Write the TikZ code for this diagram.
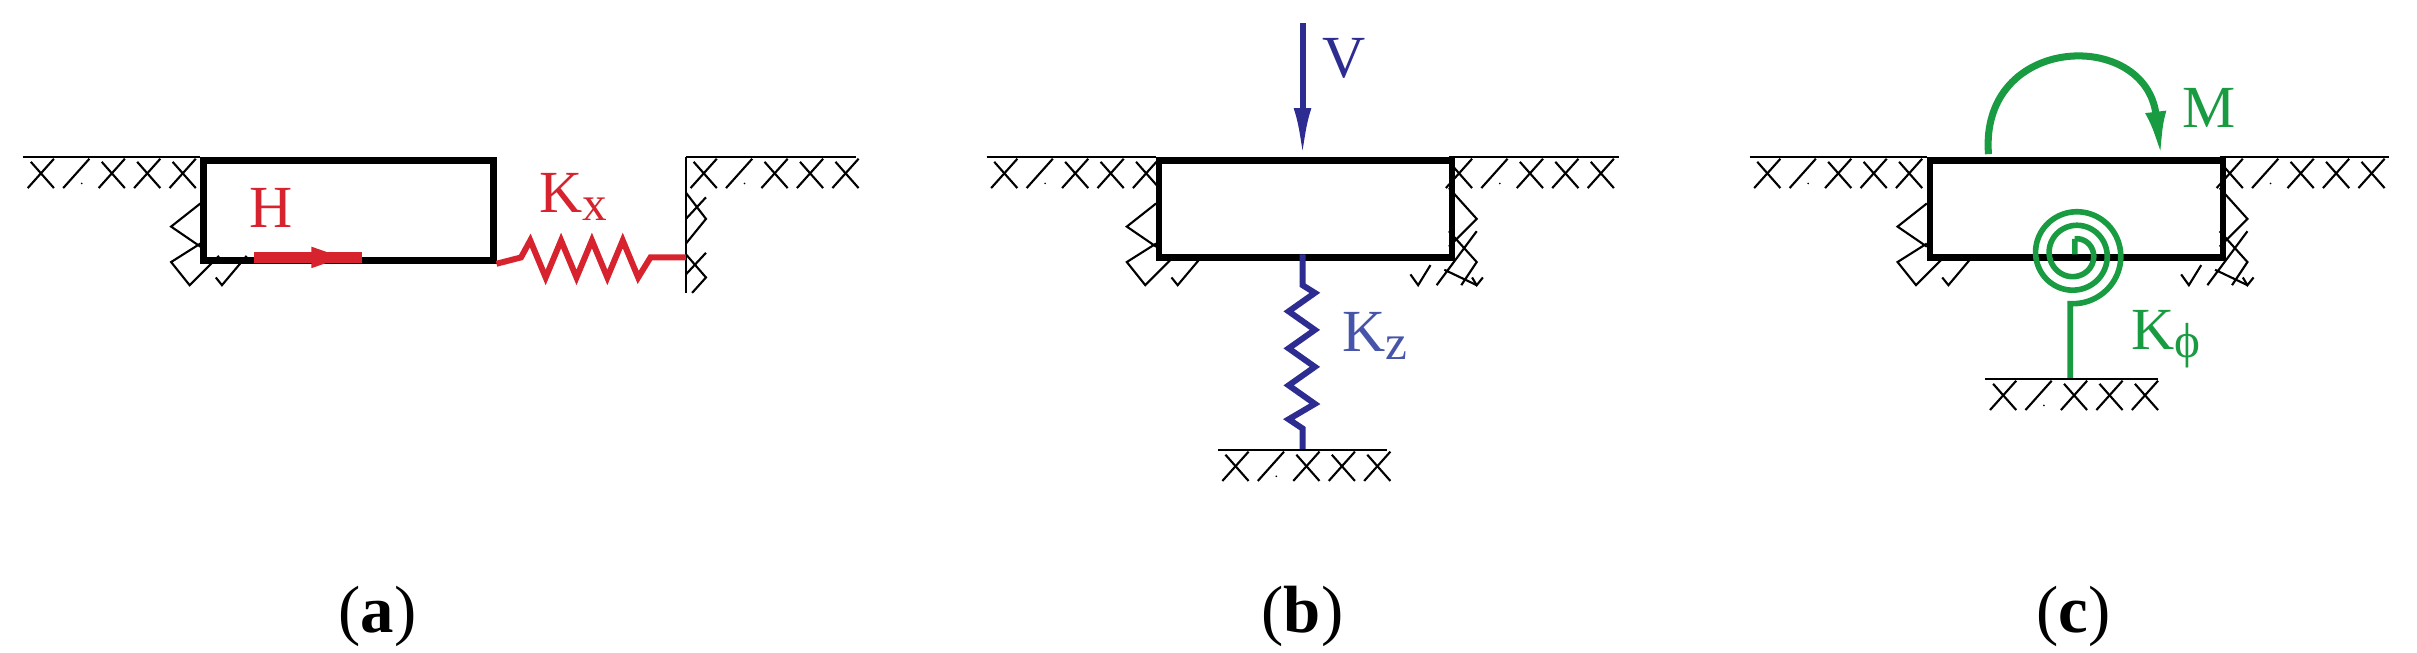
\documentclass[tikz,border=0pt]{standalone}
\usepackage{fontspec}
\setmainfont{Liberation Serif}
\usetikzlibrary{arrows.meta}
\definecolor{cred}{RGB}{215,35,45}
\definecolor{cblue}{RGB}{45,45,145}
\definecolor{cblab}{RGB}{70,85,170}
\definecolor{cgreen}{RGB}{25,155,65}
\tikzset{hatch/.style={black,line width=0.6pt},
 boxst/.style={draw=black,line width=1.8pt},
 springst/.style={line width=1.7pt,line join=miter},
 lab/.style={inner sep=0pt,font=\fontsize{17}{17}\selectfont},
 captxt/.style={inner sep=0pt,font=\fontsize{19}{19}\selectfont}}
\newcommand\sub[1]{\raisebox{-0.3ex}{\fontsize{14}{14}\selectfont #1}}
\newcommand\ghatch[3]{%
 \foreach \i in {1,...,#3}{\pgfmathsetmacro\xa{#1+23*(\i-1)+3}
  \draw[hatch] (\xa,#2+20)--(\xa+17,#2+1);
  \pgfmathparse{int(mod(\i,5))}\ifnum\pgfmathresult=2\relax
   \fill (\xa+12,#2+17) circle (0.6);\else
   \draw[hatch] (\xa+2,#2+3)--(\xa+17,#2+20);\fi}}
\newcommand\lwall[1]{%
 \draw[hatch] (#1,132)--(#1-19,147)--(#1,160);
 \draw[hatch] (#1,158)--(#1-19,170)--(#1-7,185)--(#1+12,166);
 \draw[hatch] (#1+10,180)--(#1+14,185)--(#1+30,166);}
\newcommand\rwall[1]{%
 \draw[hatch] (#1,122)--(#1+18,142)--(#1,160);
 \draw[hatch] (#1,150)--(#1+18,170)--(#1+8,185);
 \draw[hatch] (#1+18,150)--(#1-8,185) (#1-3,175)--(#1+18,185) ;
 \draw[hatch] (#1-25,178)--(#1-20,185)--(#1-12,172) (#1+15,180)--(#1+18,185)--(#1+22,180);}
\begin{document}
\begin{tikzpicture}[x=0.015415cm,y=-0.015415cm]
\useasboundingbox (0,0) rectangle (1568,423);
% ---------- (a)
\draw[hatch] (15,102)--(130,102); \ghatch{15}{102}{5}
\lwall{130}
\node[boxst,minimum width=188*0.015415cm,minimum height=65*0.015415cm,anchor=north west,inner sep=0pt] (boxa) at (130,102) {};
\draw[hatch] (445,102)--(555,102) (445,102)--(445,190); \ghatch{445}{102}{5}
\draw[hatch] (445,125)--(458,142)--(445,158) (458,128)--(445,142) (445,165)--(458,180)--(449,190) (458,164)--(445,178);
\coordinate (wa) at (445,167);
\draw[cred,springst] (boxa.south east)--(338,167)--(344,156)--(354,180)--(364,156)--(374,180)--(384,156)--(394,180)--(404,156)--(414,180)--(422,167)--(wa);
\coordinate (ha1) at (165,167); \coordinate (ha2) at (235,167);
\draw[cred,line width=3pt] (ha1)--(ha2);
\fill[cred] (202,160)--(222,167)--(202,174)--cycle;
\node[lab,text=cred] (H) at (176,135) {H};
\node[lab,text=cred] (Kx) at (372,128) {K\sub{x}};
\node[captxt] (ca) at (245,400) {(\textbf{a})};
% ---------- (b)
\draw[hatch] (640,102)--(750,102); \ghatch{640}{102}{5}
\draw[hatch] (940,102)--(1050,102); \ghatch{935}{102}{5}
\lwall{750} \rwall{940}
\node[boxst,minimum width=190*0.015415cm,minimum height=63*0.015415cm,anchor=north west,inner sep=0pt] (boxb) at (750,102) {};
\coordinate (vtop) at (845,15);
\draw[cblue,line width=1.7pt,-{Latex[length=14pt,width=5pt]}] (vtop)--(845,102);
\coordinate (gb) at (845,292);
\draw[cblue,springst] (845,165)--(845,185)--(853,190)--(836,202)--(853,214)--(836,226)--(853,238)--(836,250)--(853,262)--(836,272)--(845,278)--(gb);
\draw[hatch] (790,292)--(900,292); \ghatch{790}{292}{5}
\node[lab,text=cblue] (V) at (872,38) {V};
\node[lab,text=cblab] (Kz) at (892,218) {K\sub{z}};
\node[captxt] (cb) at (845,400) {(\textbf{b})};
% ---------- (c)
\draw[hatch] (1135,102)--(1250,102); \ghatch{1135}{102}{5}
\draw[hatch] (1440,102)--(1550,102); \ghatch{1435}{102}{5}
\lwall{1250} \rwall{1440}
\node[boxst,minimum width=190*0.015415cm,minimum height=63*0.015415cm,anchor=north west,inner sep=0pt] (boxc) at (1250,102) {};
\coordinate (m1) at (1290,100); \coordinate (m2) at (1402,102);
\draw[cgreen,line width=2pt,-{Latex[length=13pt,width=6pt]}] (m1) .. controls (1284,22) and (1392,18) .. (m2);
\node[lab,text=cgreen] (M) at (1433,70) {M};
\coordinate (sc) at (1346,165);
\draw[cgreen,line width=1.6pt] (sc)--(1346,155)
 plot[domain=0:900,samples=250,smooth] ({1346+(10+(\x/900)*22)*sin(\x)},{165-(10+(\x/900)*22)*cos(\x)})
 --(1343,197)--(1343,246);
\draw[hatch] (1288,246)--(1400,246); \ghatch{1288}{246}{5}
\node[lab,text=cgreen] (Kp) at (1405,220) {K\sub{ϕ}};
\node[captxt] (cc) at (1345,400) {(\textbf{c})};
\end{tikzpicture}
\end{document}
